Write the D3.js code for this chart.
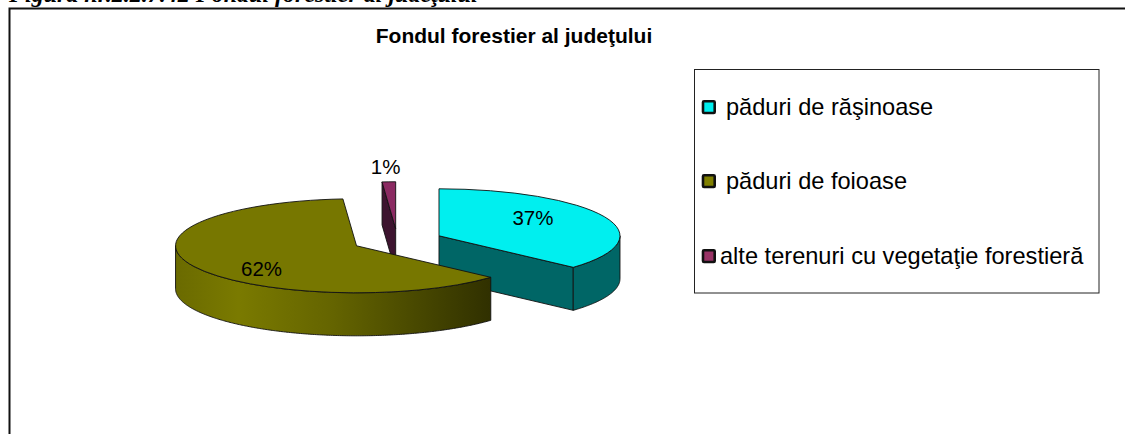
<!DOCTYPE html>
<html><head><meta charset="utf-8">
<script src="https://cdn.jsdelivr.net/npm/d3@7"></script>
<style>html,body{margin:0;padding:0;background:#fff}svg{display:block}text{font-family:"Liberation Sans",Arial,sans-serif;fill:#000}</style>
</head><body><svg id="c" width="1125" height="434"></svg>
<script>
const categories = ["păduri de răşinoase", "păduri de foioase", "alte terenuri cu vegetaţie forestieră"];
const values = [36.7, 62.1, 1.2];
const valueLabels = ["37%", "62%", "1%"];
const heading = "Figura nr.2.2.7.42  Fondul forestier al judeţului";
const title = "Fondul forestier al judeţului";
const topColors = ["#00EFEF", "#777700", "#8B2A62"];
const wallColors = ["#006666", "url(#oliveWall)", "#3D142F"];

const W = 1125, H = 434;
const svg = d3.select("#c");
const cx = 397.4, cy = 240.6, rx = 181, ry = 47, depth = 43, explode = 45.5;
const ink = "#111", inkW = 0.9;

// gradient on the large slice's wall
const grad = svg.append("defs").append("linearGradient").attr("id", "oliveWall")
  .attr("gradientUnits", "userSpaceOnUse").attr("x1", 175).attr("x2", 491).attr("y1", 0).attr("y2", 0);
[[0, "#6a6a00"], [0.2, "#7a7a00"], [0.5, "#646400"], [0.78, "#474700"], [1, "#303000"]]
  .forEach(([o, c]) => grad.append("stop").attr("offset", o).attr("stop-color", c));

// frame, clipped by the page on the right and at the bottom
svg.append("path").attr("d", `M9.5,${H + 2}V8.5H${W + 2}`).attr("fill", "none").attr("stroke", "#111").attr("stroke-width", 2);
svg.append("text").text(heading).attr("x", 9).attr("y", 1.5)
  .style("font-family", '"Liberation Serif",serif').style("font-weight", "bold").style("font-style", "italic").style("font-size", "24px");
svg.append("text").text(title).attr("x", 514).attr("y", 43).attr("text-anchor", "middle")
  .style("font-weight", "bold").style("font-size", "21px");

// pie layout
const slices = d3.pie().sort(null)(values);
const arc = d3.arc().innerRadius(0).outerRadius(rx);
const centre = s => {
  const m = (s.startAngle + s.endAngle) / 2;
  return [cx + explode * Math.sin(m), cy - explode * Math.cos(m) * ry / rx];
};
const pt = (c, a, dy = 0) => [c[0] + rx * Math.sin(a), c[1] - ry * Math.cos(a) + dy];
const line = d3.line();

// back to front: small slice, first slice, large slice
[2, 0, 1].forEach(i => {
  const s = slices[i], c = centre(s);
  const g = svg.append("g");
  // cut faces that look towards the viewer
  if (i === 0) {
    g.append("path").attr("d", line([c, pt(c, s.endAngle), pt(c, s.endAngle, depth), [c[0], c[1] + depth]]) + "Z")
      .attr("fill", wallColors[i]).attr("stroke", ink).attr("stroke-width", inkW);
  }
  if (i === 2) {
    g.append("path").attr("d", line([c, pt(c, s.startAngle), pt(c, s.startAngle, depth), [c[0], c[1] + depth]]) + "Z")
      .attr("fill", wallColors[i]).attr("stroke", ink).attr("stroke-width", inkW);
  }
  // rim, only the part of the ellipse facing the viewer
  const a0 = Math.max(s.startAngle, Math.PI / 2), a1 = Math.min(s.endAngle, 3 * Math.PI / 2);
  if (a1 > a0) {
    const as = d3.range(a0, a1, 0.01).concat([a1]);
    const rim = as.map(a => pt(c, a)).concat(as.slice().reverse().map(a => pt(c, a, depth)));
    g.append("path").attr("d", line(rim) + "Z").attr("fill", wallColors[i]).attr("stroke", ink).attr("stroke-width", inkW);
  }
  // top face
  g.append("path").attr("d", arc(s))
    .attr("transform", `translate(${c[0]},${c[1]}) scale(1,${ry / rx})`)
    .attr("fill", topColors[i]).attr("stroke", ink).attr("stroke-width", inkW)
    .attr("vector-effect", "non-scaling-stroke").style("vector-effect", "non-scaling-stroke");
});

// value labels, placed relative to each slice's centre
const labelShift = [[94, -11], [-95, 30], [-10, -55]];
slices.forEach((s, i) => {
  const c = centre(s);
  svg.append("text").text(valueLabels[i]).attr("x", c[0] + labelShift[i][0]).attr("y", c[1] + labelShift[i][1])
    .attr("text-anchor", "middle").style("font-size", "20.5px");
});

// legend
const legX = 694.5, legY = 69.5, legW = 404.5, legH = 223.5;
svg.append("rect").attr("x", legX).attr("y", legY).attr("width", legW).attr("height", legH)
  .attr("fill", "#fff").attr("stroke", "#222").attr("stroke-width", 1);
const legY0 = d3.scaleOrdinal().domain(categories).range([115, 189, 264]);
const textX = [726, 726, 720];
const legendColors = ["#00EFEF", "#808000", "#993366"];
categories.forEach((n, i) => {
  svg.append("rect").attr("x", 703).attr("y", legY0(n) - 13.7).attr("width", 11.7).attr("height", 11.7)
    .attr("fill", legendColors[i]).attr("stroke", "#111").attr("stroke-width", 2.6).attr("rx", 1);
  svg.append("text").text(n).attr("x", textX[i]).attr("y", legY0(n)).style("font-size", "23.6px");
});
</script></body></html>
